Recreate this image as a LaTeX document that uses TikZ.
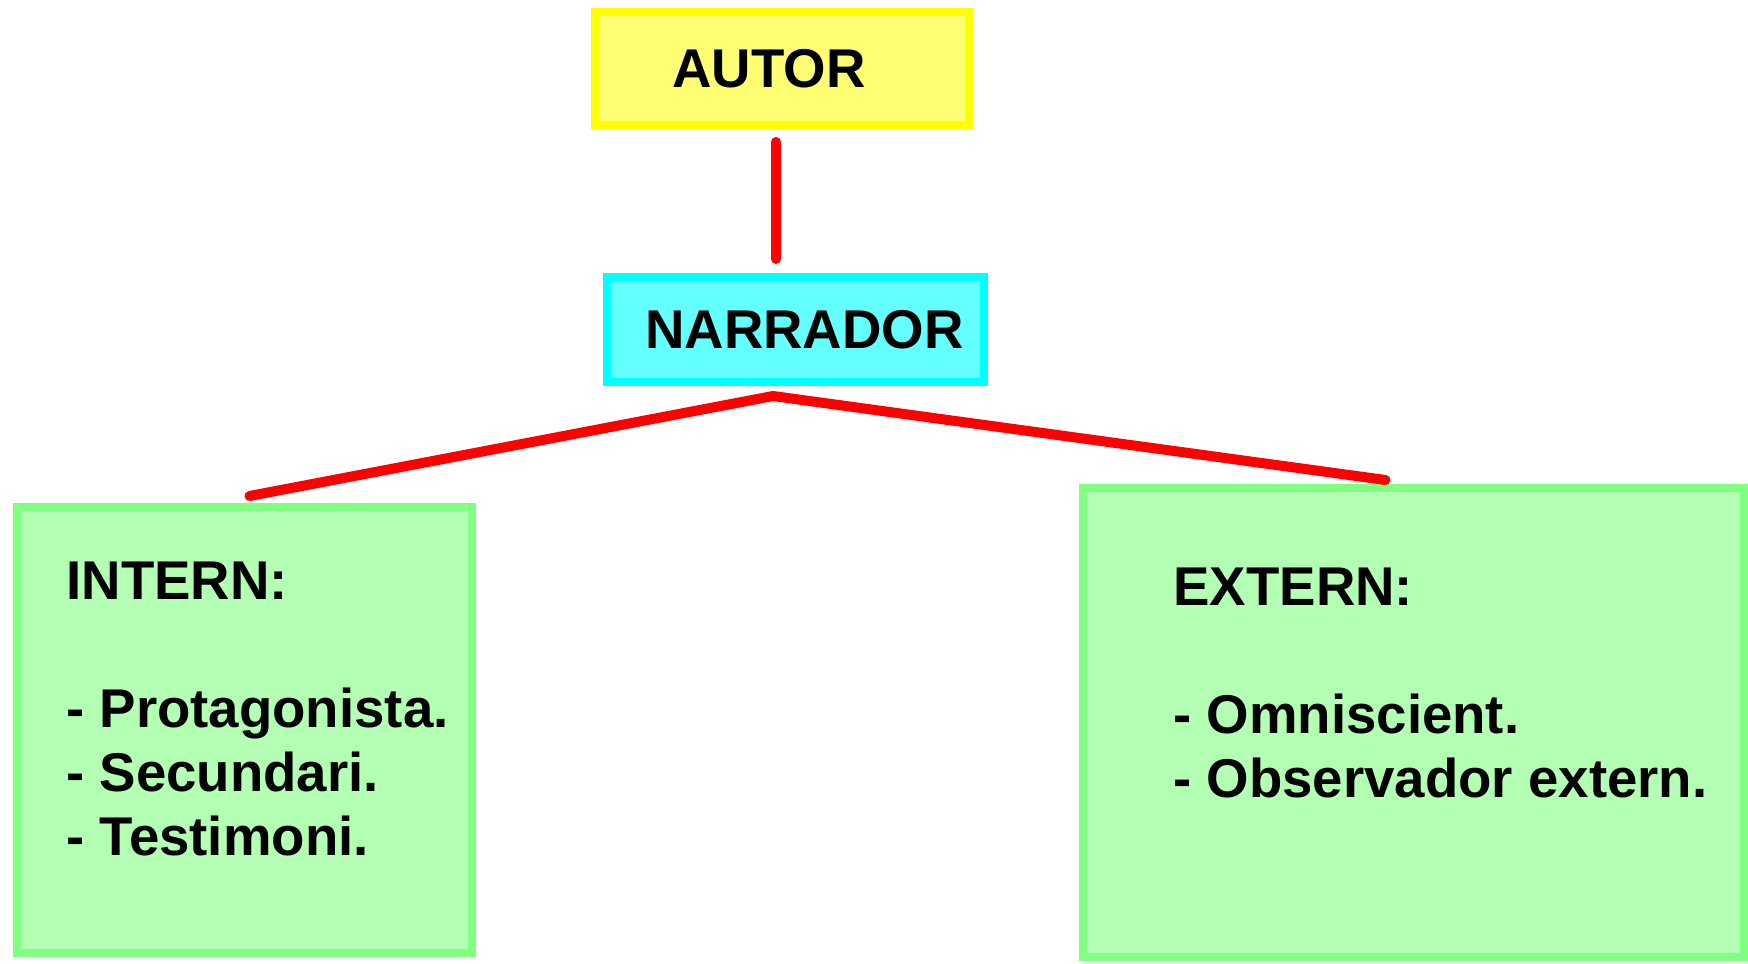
\documentclass[tikz,border=0pt]{standalone}
\usepackage{fontspec}
\setmainfont{Liberation Sans}
\usetikzlibrary{positioning}
\definecolor{autorline}{RGB}{255,255,0}
\definecolor{autorfill}{RGB}{255,255,115}
\definecolor{narrline}{RGB}{0,255,255}
\definecolor{narrfill}{RGB}{100,255,255}
\definecolor{greenline}{RGB}{128,255,128}
\definecolor{greenfill}{RGB}{179,255,179}
\definecolor{linkred}{RGB}{255,0,0}
\begin{document}
\begin{tikzpicture}[x=0.5pt,y=-0.5pt,
	box/.style={draw, line width=4pt, inner sep=0pt, font=\bfseries\fontsize{27.3}{32}\selectfont},
	words/.style={inner sep=0pt, align=left, font=\bfseries\fontsize{27.3}{32}\selectfont},
	link/.style={draw=linkred, line width=5pt, line cap=round, line join=round}]
	\useasboundingbox (0,0) rectangle (1748,963);
	% boxes
	\node [box, draw=autorline, fill=autorfill, minimum width=187pt, minimum height=56.5pt] (autor) at (782,68.5) {\hspace*{-13pt}AUTOR};
	\node [box, draw=narrline, fill=narrfill, minimum width=188.5pt, minimum height=52.5pt] (narrador) at (795.5,329.5) {\hspace*{9pt}NARRADOR};
	\node [box, draw=greenline, fill=greenfill, minimum width=227.5pt, minimum height=223pt] (intern) at (244.5,730) {};
	\node [box, draw=greenline, fill=greenfill, minimum width=330.5pt, minimum height=234.5pt] (extern) at (1413.5,722.5) {};
	% texts
	\node [words, below right=29.5pt and 26.5pt of intern.north west, anchor=north west] (interntxt) {INTERN:\\[32pt]- Protagonista.\\- Secundari.\\- Testimoni.};
	\node [words, below right=42pt and 47pt of extern.north west, anchor=north west] (externtxt) {EXTERN:\\[32pt]- Omniscient.\\- Observador extern.};
	% links
	\draw [link] ([xshift=-3pt,yshift=-6.5pt]autor.south) -- ([xshift=-9.75pt,yshift=7pt]narrador.north);
	\coordinate (fork) at ([xshift=-11.25pt,yshift=-5pt]narrador.south);
	\draw [link] ([xshift=2.5pt,yshift=3.5pt]intern.north) -- (fork) -- ([xshift=-14pt,yshift=2pt]extern.north);
\end{tikzpicture}
\end{document}
